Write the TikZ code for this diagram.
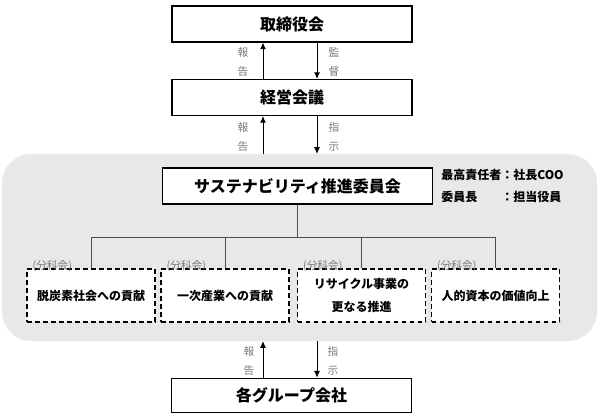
\documentclass[tikz,border=0pt]{standalone}
\usepackage{fontspec}
\setmainfont{Noto Sans CJK JP}
\usetikzlibrary{positioning,arrows.meta,calc}
\definecolor{panel}{RGB}{232,232,232}
\definecolor{note}{RGB}{120,120,120}
\tikzset{
box/.style={
  draw,
  line width=0.8pt,
  fill=white,
  minimum width=180pt,
  minimum height=27pt,
  font=\fontsize{12}{14}\selectfont\bfseries
  },
sub/.style={
  draw,
  dash pattern=on 3.5pt off 2.5pt,
  line width=0.9pt,
  fill=white,
  minimum width=96pt,
  minimum height=39.75pt,
  align=center,
  font=\fontsize{9}{17}\selectfont\bfseries
  },
bunka/.style={text=note, font=\fontsize{8}{9}\selectfont, inner sep=1pt},
lbl/.style={text=note, align=center, font=\fontsize{8}{14}\selectfont},
arr/.style={-{Latex[length=5pt,width=4.5pt]}, line width=0.75pt},
branch/.style={draw=black!70, line width=0.6pt}
}

\begin{document}
\begin{tikzpicture}[x=0.75pt,y=0.75pt,yscale=-1,xscale=1]
\useasboundingbox (0,0) rectangle (600,419);

\node [fill=panel, draw=black!8, rounded corners=22pt, minimum width=446pt, minimum height=140pt] (panel) at (299.5,247.5) {};

\node [box] (board) at (292,24) {取締役会};
\node [box] (mgmt) at (292,97.5) {経営会議};
\node [box, minimum width=203pt] (susc) at (297.5,186) {サステナビリティ推進委員会};
\node [box, minimum height=26pt] (group) at (291.5,395.5) {各グループ会社};

\coordinate (up) at (263,0);
\coordinate (dn) at (317,0);

\draw [arr] (mgmt.north -| up) -- (board.south -| up);
\draw [arr] (board.south -| dn) -- (mgmt.north -| dn);
\draw [arr] (panel.north -| up) -- (mgmt.south -| up);
\draw [arr] (mgmt.south -| dn) -- (panel.north -| dn);
\draw [arr] (group.north -| up) -- (panel.south -| up);
\draw [arr] (panel.south -| dn) -- (group.north -| dn);

\node [lbl] (rep1) at (243,62) {報\\告};
\node [lbl] (sup1) at (334,62) {監\\督};
\node [lbl] (rep2) at (243,137) {報\\告};
\node [lbl] (ins2) at (334,137) {指\\示};
\node [lbl] (rep3) at (249,361) {報\\告};
\node [lbl] (ins3) at (333,361) {指\\示};

\node [anchor=west, inner sep=0pt, font=\fontsize{9}{11}\selectfont\bfseries] (chief) at (441,188)
  {\begin{tabular}{@{}l@{}l@{}}最高責任者&：社長COO\\[5.5pt]委員長&：担当役員\end{tabular}};

\node [sub] (d1) at (91,295.5) {脱炭素社会への貢献};
\node [sub] (d2) at (225,295.5) {一次産業への貢献};
\node [sub] (d3) at (361.5,295.5) {リサイクル事業の\\更なる推進};
\node [sub] (d4) at (495.5,295.5) {人的資本の価値向上};

\coordinate (bus) at (298,237);
\draw [branch] (susc.south) -- (susc.south |- bus);
\draw [branch] (d1.north |- bus) -- (d4.north |- bus);
\foreach \d in {d1,d2,d3,d4} {
  \draw [branch] (\d.north |- bus) -- (\d.north);
  \node [bunka, anchor=south west] (b\d) at ([xshift=3.5pt,yshift=3.5pt]\d.north west) {(分科会)};
}

\end{tikzpicture}
\end{document}
